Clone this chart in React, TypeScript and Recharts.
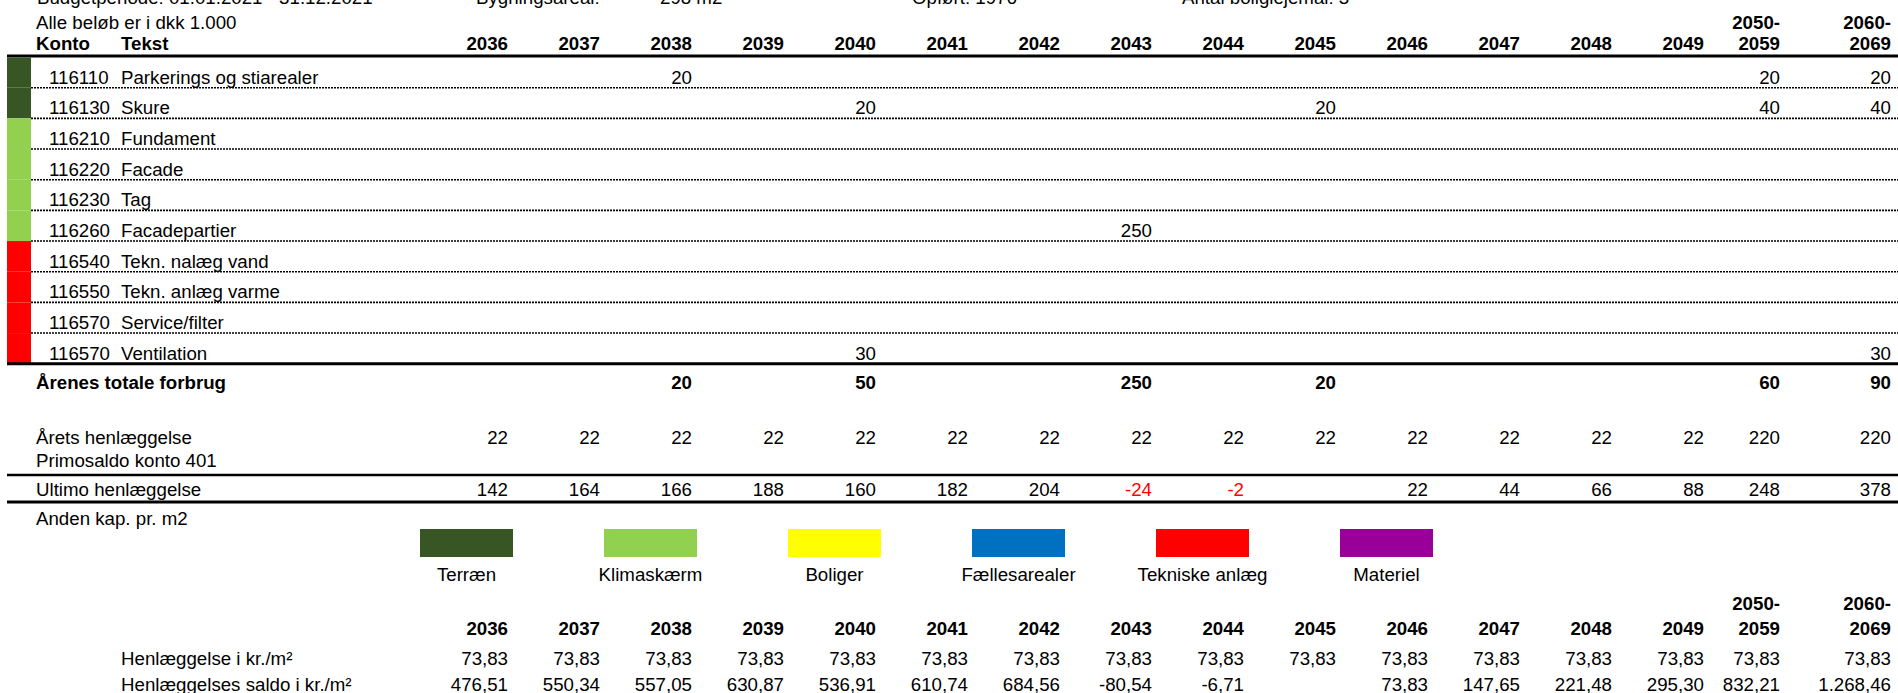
import React from 'react';
import { ComposedChart, XAxis, YAxis, Scatter, Customized } from 'recharts';

const _ = null;

// ---------- DATA ----------
const YEARS = ['2036', '2037', '2038', '2039', '2040', '2041', '2042', '2043', '2044', '2045', '2046', '2047', '2048', '2049', '2050-2059', '2060-2069'];

const INFO_TEXTS = ['Budgetperiode: 01.01.2021 - 31.12.2021', 'Bygningsareal:', '298 m2', 'Opført: 1976', 'Antal boliglejemål: 3'];
const NOTE_TEXT = 'Alle beløb er i dkk 1.000';

const KONTO = ['116110', '116130', '116210', '116220', '116230', '116260', '116540', '116550', '116570', '116570'];
const TEKST = ['Parkerings og stiarealer', 'Skure', 'Fundament', 'Facade', 'Tag', 'Facadepartier', 'Tekn. nalæg vand', 'Tekn. anlæg varme', 'Service/filter', 'Ventilation'];
const GRUPPE = ['Terræn', 'Terræn', 'Klimaskærm', 'Klimaskærm', 'Klimaskærm', 'Klimaskærm', 'Tekniske anlæg', 'Tekniske anlæg', 'Tekniske anlæg', 'Tekniske anlæg'];

const F_116110 = [_, _, 20, _, _, _, _, _, _, _, _, _, _, _, 20, 20];
const F_116130 = [_, _, _, _, 20, _, _, _, _, 20, _, _, _, _, 40, 40];
const F_116210 = [_, _, _, _, _, _, _, _, _, _, _, _, _, _, _, _];
const F_116220 = [_, _, _, _, _, _, _, _, _, _, _, _, _, _, _, _];
const F_116230 = [_, _, _, _, _, _, _, _, _, _, _, _, _, _, _, _];
const F_116260 = [_, _, _, _, _, _, _, 250, _, _, _, _, _, _, _, _];
const F_116540 = [_, _, _, _, _, _, _, _, _, _, _, _, _, _, _, _];
const F_116550 = [_, _, _, _, _, _, _, _, _, _, _, _, _, _, _, _];
const F_116570S = [_, _, _, _, _, _, _, _, _, _, _, _, _, _, _, _];
const F_116570V = [_, _, _, _, 30, _, _, _, _, _, _, _, _, _, _, 30];
const FORBRUG = [F_116110, F_116130, F_116210, F_116220, F_116230, F_116260, F_116540, F_116550, F_116570S, F_116570V];

const TOTAL_FORBRUG = [_, _, 20, _, 50, _, _, 250, _, 20, _, _, _, _, 60, 90];
const AARETS_HENL = [22, 22, 22, 22, 22, 22, 22, 22, 22, 22, 22, 22, 22, 22, 220, 220];
const ULTIMO_HENL = [142, 164, 166, 188, 160, 182, 204, -24, -2, _, 22, 44, 66, 88, 248, 378];
const HENL_M2 = [73.83, 73.83, 73.83, 73.83, 73.83, 73.83, 73.83, 73.83, 73.83, 73.83, 73.83, 73.83, 73.83, 73.83, 73.83, 73.83];
const SALDO_M2 = [476.51, 550.34, 557.05, 630.87, 536.91, 610.74, 684.56, -80.54, -6.71, _, 73.83, 147.65, 221.48, 295.3, 832.21, 1268.46];

const KATEGORIER = ['Terræn', 'Klimaskærm', 'Boliger', 'Fællesarealer', 'Tekniske anlæg', 'Materiel'];
const KATEGORI_FARVER = ['#375623', '#92D050', '#FFFF00', '#0070C0', '#FF0000', '#990099'];

const LABELS = {
  konto: 'Konto',
  tekst: 'Tekst',
  total: 'Årenes totale forbrug',
  henl: 'Årets henlæggelse',
  primo: 'Primosaldo konto 401',
  ultimo: 'Ultimo henlæggelse',
  anden: 'Anden kap. pr. m2',
  henlM2: 'Henlæggelse i kr./m²',
  saldoM2: 'Henlæggelses saldo i kr./m²',
};

// ---------- LAYOUT ----------
const W = 1898;
const H = 693;
const FONT = "'Liberation Sans', Arial, Helvetica, sans-serif";
const FS = 18.7;
const COL_DX = [0, 0, 0, 0, 0, 0, 0, 0, 0, 0, 0, 0, 0, 0, -16, 3];
const INFO_X = [37, 476, 660, 912, 1182];
const INFO_BASE = 4;
const LEFT_X = 36;
const KONTO_X = 49;
const TEKST_X = 121;
const BAR_X0 = 7;
const BAR_X1 = 31;
const ROW0 = 77;
const ROW_H = 30.67;
const LINE_OFF = 10.7;
const Y = {
  note: 22,
  head1: 22,
  head2: 43,
  topLine: 56,
  total: 382,
  henl: 437,
  primo: 460,
  line2: 475,
  ultimo: 489,
  line3: 502,
  anden: 518,
  boxTop: 529,
  boxBottom: 557,
  legendLabel: 574,
  bHead1: 603,
  bHead2: 628,
  bHenl: 658,
  bSaldo: 684,
};
const LEG_X0 = 420;
const LEG_STEP = 184;
const LEG_W = 93;

const rowY = (i: number) => ROW0 + ROW_H * i;

const fmtInt = (v: number | null) => (v == null ? '' : String(v));
const fmtDec = (v: number | null) => {
  if (v == null) return '';
  const neg = v < 0;
  const [i, d] = Math.abs(v).toFixed(2).split('.');
  const iS = i.replace(/\B(?=(\d{3})+(?!\d))/g, '.');
  return (neg ? '-' : '') + iS + ',' + d;
};

type Cell = { col: number; y: number; text: string; color: string };

const makeCells = (values: (number | string | null)[], y: number, fmt: (v: any) => string, colorFn?: (v: any) => string): Cell[] =>
  values
    .map((v, col) => ({ col, y, text: fmt(v), color: colorFn ? colorFn(v) : '#000' }))
    .filter((c) => c.text !== '');

const headTop = YEARS.map((yr) => (yr.includes('-') ? yr.split('-')[0] + '-' : null));
const headBottom = YEARS.map((yr) => (yr.includes('-') ? yr.split('-')[1] : yr));
const str = (v: any) => (v == null ? '' : String(v));

const cellShape = (bold: boolean) => (props: any) => {
  const { cx, cy, payload } = props;
  if (cx == null || cy == null) return <g />;
  return (
    <text
      x={cx + COL_DX[payload.col]}
      y={cy}
      dy="0.355em"
      textAnchor="end"
      fontFamily={FONT}
      fontSize={FS}
      fontWeight={bold ? 700 : 400}
      fill={payload.color}
    >
      {payload.text}
    </text>
  );
};

const T = (p: { x: number; y: number; bold?: boolean; anchor?: string; children: React.ReactNode; base?: boolean }) => (
  <text
    x={p.x}
    y={p.y}
    dy={p.base ? 0 : '0.355em'}
    textAnchor={(p.anchor as any) || 'start'}
    fontFamily={FONT}
    fontSize={FS}
    fontWeight={p.bold ? 700 : 400}
    fill="#000"
  >
    {p.children}
  </text>
);

const Decorations = () => (
  <g>
    {INFO_TEXTS.map((t, i) => (
      <T key={'info' + i} x={INFO_X[i]} y={INFO_BASE} base>
        {t}
      </T>
    ))}
    <T x={LEFT_X} y={Y.note}>{NOTE_TEXT}</T>
    <T x={LEFT_X} y={Y.head2} bold>{LABELS.konto}</T>
    <T x={TEKST_X} y={Y.head2} bold>{LABELS.tekst}</T>
    <line x1={BAR_X0} x2={W} y1={Y.topLine} y2={Y.topLine} stroke="#000" strokeWidth={3} />
    {KONTO.map((k, i) => {
      const first = Y.topLine + 1.5;
      const top = i === 0 ? first : rowY(i) + LINE_OFF - ROW_H;
      const bottom = rowY(i) + LINE_OFF;
      const color = KATEGORI_FARVER[KATEGORIER.indexOf(GRUPPE[i])];
      return (
        <g key={'acc' + i}>
          <rect x={BAR_X0} y={top} width={BAR_X1 - BAR_X0} height={bottom - top} fill={color} />
          <T x={KONTO_X} y={rowY(i)}>{k}</T>
          <T x={TEKST_X} y={rowY(i)}>{TEKST[i]}</T>
          {i < KONTO.length - 1 ? (
            <line x1={BAR_X1} x2={W} y1={bottom} y2={bottom} stroke="#000" strokeWidth={1.6} strokeDasharray="2 1" />
          ) : (
            <line x1={BAR_X0} x2={W} y1={bottom} y2={bottom} stroke="#000" strokeWidth={3} />
          )}
        </g>
      );
    })}
    <T x={LEFT_X} y={Y.total} bold>{LABELS.total}</T>
    <T x={LEFT_X} y={Y.henl}>{LABELS.henl}</T>
    <T x={LEFT_X} y={Y.primo}>{LABELS.primo}</T>
    <line x1={BAR_X0} x2={W} y1={Y.line2} y2={Y.line2} stroke="#000" strokeWidth={2.5} />
    <T x={LEFT_X} y={Y.ultimo}>{LABELS.ultimo}</T>
    <line x1={BAR_X0} x2={W} y1={Y.line3} y2={Y.line3} stroke="#000" strokeWidth={3} />
    <T x={LEFT_X} y={Y.anden}>{LABELS.anden}</T>
    {KATEGORIER.map((k, i) => (
      <g key={'leg' + i}>
        <rect x={LEG_X0 + LEG_STEP * i} y={Y.boxTop} width={LEG_W} height={Y.boxBottom - Y.boxTop} fill={KATEGORI_FARVER[i]} />
        <T x={LEG_X0 + LEG_STEP * i + LEG_W / 2} y={Y.legendLabel} anchor="middle">{k}</T>
      </g>
    ))}
    <T x={TEKST_X} y={Y.bHenl}>{LABELS.henlM2}</T>
    <T x={TEKST_X} y={Y.bSaldo}>{LABELS.saldoM2}</T>
  </g>
);

const regularRows: Cell[][] = [
  ...FORBRUG.map((vals, i) => makeCells(vals, rowY(i), fmtInt)),
  makeCells(AARETS_HENL, Y.henl, fmtInt),
  makeCells(ULTIMO_HENL, Y.ultimo, fmtInt, (v) => (v < 0 ? '#FF0000' : '#000')),
  makeCells(HENL_M2, Y.bHenl, fmtDec),
  makeCells(SALDO_M2, Y.bSaldo, fmtDec),
];
const boldRows: Cell[][] = [
  makeCells(headTop, Y.head1, str),
  makeCells(headBottom, Y.head2, str),
  makeCells(TOTAL_FORBRUG, Y.total, fmtInt),
  makeCells(headTop, Y.bHead1, str),
  makeCells(headBottom, Y.bHead2, str),
];

export default function App() {
  return (
    <div style={{ position: 'absolute', left: 0, top: 0, width: W, height: H, overflow: 'hidden', background: '#fff' }}>
      <ComposedChart width={W} height={H} margin={{ top: 0, right: 0, bottom: 0, left: 0 }}>
        <XAxis type="number" dataKey="col" domain={[0, 15]} padding={{ left: 508, right: 10 }} hide />
        <YAxis type="number" dataKey="y" domain={[0, H]} reversed hide />
        <Customized component={<Decorations />} />
        {regularRows.map((data, i) => (
          <Scatter key={'r' + i} data={data} shape={cellShape(false)} isAnimationActive={false} />
        ))}
        {boldRows.map((data, i) => (
          <Scatter key={'b' + i} data={data} shape={cellShape(true)} isAnimationActive={false} />
        ))}
      </ComposedChart>
    </div>
  );
}
